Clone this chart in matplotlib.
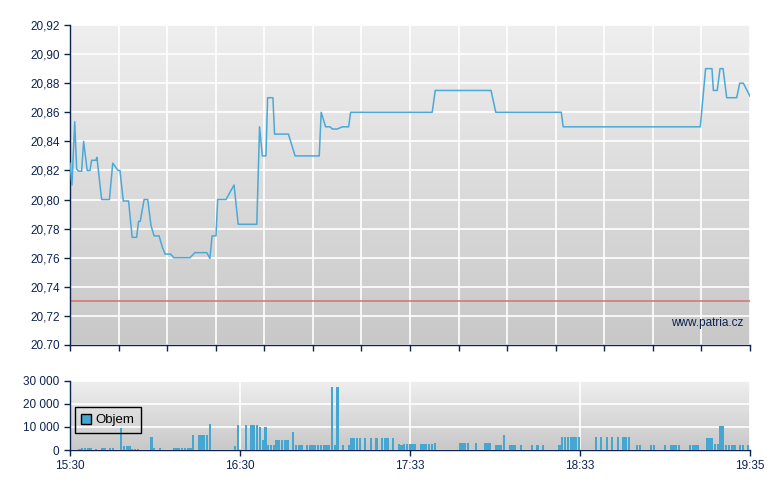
import numpy as np
import matplotlib
matplotlib.use('Agg')
import matplotlib.pyplot as plt
from matplotlib.colors import LinearSegmentedColormap
from matplotlib.patches import Patch

plt.rcParams['font.family'] = ['Liberation Sans', 'DejaVu Sans']
NAVY = '#0c2350'
LINE_BLUE = '#4ba9d6'
BAR_BLUE = '#45a6d1'

# price line: minutes after 15:30 and price
price_min = [0, 0.7, 1.7, 2.4, 3.1, 4.2, 4.9, 6.2, 7.2, 7.8, 9.3, 9.7, 11.4, 14.2,
             15.4, 17.3, 18.0, 19.2, 21.1, 22.4, 24.0, 24.7, 25.3, 26.7, 28.0, 29.2,
             30.3, 32.1, 33.4, 34.3, 36.3, 37.4, 43.2, 45.0, 49.3, 50.4, 51.2, 52.6,
             53.2, 56.2, 59.1, 60.6, 67.3, 68.3, 69.3, 70.6, 71.2, 73.1, 73.7, 78.7,
             81.1, 89.8, 90.5, 92.1, 93.7, 94.5, 96.3, 98.1, 100.4, 101.1, 130.5,
             131.6, 151.7, 153.4, 177.0, 177.7, 227.1, 229.0, 231.3, 231.8, 233.2,
             234.2, 235.3, 236.6, 240.2, 241.3, 242.6, 245]
price = [20.825, 20.81, 20.8535, 20.821, 20.8195, 20.8195, 20.84, 20.82, 20.82, 20.827,
         20.827, 20.829, 20.80, 20.80, 20.825, 20.82, 20.82, 20.799, 20.799, 20.774,
         20.774, 20.785, 20.785, 20.80, 20.80, 20.782, 20.775, 20.775, 20.7665, 20.7625,
         20.7625, 20.76, 20.76, 20.7635, 20.7635, 20.7595, 20.775, 20.775, 20.80, 20.80,
         20.81, 20.783, 20.783, 20.85, 20.83, 20.83, 20.87, 20.87, 20.845, 20.845,
         20.83, 20.83, 20.86, 20.85, 20.85, 20.8485, 20.8485, 20.85, 20.85, 20.86, 20.86,
         20.875, 20.875, 20.86, 20.86, 20.85, 20.85, 20.89, 20.89, 20.875, 20.875,
         20.89, 20.89, 20.87, 20.87, 20.88, 20.88, 20.871]
prev_close = 20.73

# volume per minute (minute index after 15:30)
vol_min = [3, 4, 5, 6, 7, 9, 11, 12, 14, 15, 18, 19, 20, 21, 22, 23, 24, 29, 30, 32,
           37, 38, 39, 40, 41, 42, 43, 44, 46, 47, 48, 49, 50, 59, 60, 63, 65, 66, 67,
           68, 69, 70, 71, 72, 73, 74, 75, 76, 77, 78, 80, 81, 82, 83, 85, 86, 87, 88,
           89, 90, 91, 92, 93, 94, 95, 96, 98, 100, 101, 102, 103, 104, 106, 108, 110,
           112, 113, 114, 116, 118, 119, 120, 121, 122, 123, 124, 126, 127, 128, 129,
           130, 131, 140, 141, 142, 143, 146, 149, 150, 151, 153, 154, 155, 156, 158,
           159, 160, 162, 166, 168, 170, 176, 177, 178, 179, 180, 181, 182, 183, 189,
           191, 193, 195, 197, 199, 200, 201, 204, 205, 209, 210, 214, 216, 217, 218,
           219, 223, 224, 225, 226, 229, 230, 231, 232, 233, 234, 235, 236, 237, 238,
           239, 241, 242, 244]
vol = [600, 1000, 1000, 1000, 1000, 600, 1000, 1000, 1000, 1000, 9500, 1800, 1800, 1800,
       600, 600, 600, 5500, 1000, 1000, 1000, 1000, 1000, 1000, 1000, 1000, 1000, 6700,
       6700, 6700, 6700, 6700, 11200, 1900, 10700, 10700, 10700, 10700, 10700, 9800,
       4500, 9800, 2200, 2200, 2200, 4500, 4500, 4500, 4500, 4500, 8000, 2200, 2200,
       2200, 2200, 2200, 2200, 2200, 2200, 2200, 2200, 2200, 2200, 27300, 2200, 27300,
       2200, 2200, 5400, 5400, 5400, 5400, 5400, 5400, 5400, 5400, 5400, 5400, 5400,
       2700, 2200, 2700, 2700, 2700, 2700, 2700, 2700, 2700, 2700, 2700, 2700, 3100,
       3100, 3100, 3100, 3100, 3100, 3100, 3100, 3100, 2200, 2200, 2200, 6700, 2200,
       2200, 2200, 2200, 2200, 2200, 2200, 2200, 5800, 5800, 5800, 5800, 5800, 5800,
       5800, 5800, 5800, 5800, 5800, 5800, 5800, 5800, 5800, 2200, 2200, 2200, 2200,
       2200, 2200, 2200, 2200, 2200, 2200, 2200, 2200, 2200, 5400, 5400, 5400, 2700,
       2700, 10300, 10300, 2200, 2200, 2200, 2200, 2200, 2200, 2200]

time_labels = ['15:30', '16:30', '17:33', '18:33', '19:35']
price_ticks = [20.70, 20.72, 20.74, 20.76, 20.78, 20.80, 20.82, 20.84, 20.86, 20.88, 20.90, 20.92]
price_labels = ['20.70', '20,72', '20,74', '20,76', '20,78', '20,80', '20,82', '20,84',
                '20,86', '20,88', '20,90', '20,92']
vol_ticks = [0, 10000, 20000, 30000]
vol_labels = ['0', '10 000', '20 000', '30 000']
SESSION = 245

grad = LinearSegmentedColormap.from_list('bg', ['#c8c8c8', '#efefef'])


def background(ax):
    ax.imshow(np.linspace(0, 1, 256).reshape(-1, 1), cmap=grad, origin='lower',
              extent=[0, 1, 0, 1], transform=ax.transAxes, aspect='auto', zorder=0)
    ax.set_axisbelow(True)
    for s in ['top', 'right']:
        ax.spines[s].set_visible(False)
    for s in ['left', 'bottom']:
        ax.spines[s].set_color(NAVY)
        ax.spines[s].set_linewidth(1)
    ax.tick_params(colors=NAVY, labelcolor=NAVY, length=4, width=1, labelsize=8.5)


fig = plt.figure(figsize=(7.8, 4.9), dpi=100)
ax1 = fig.add_axes([70 / 780, 145 / 490, 680 / 780, 320 / 490])
ax2 = fig.add_axes([70 / 780, 40 / 490, 680 / 780, 69.3 / 490])

# price panel
background(ax1)
ax1.plot(price_min, price, color=LINE_BLUE, lw=1.1, zorder=3)
ax1.axhline(prev_close, color='#d6706c', lw=1.2, alpha=0.9, zorder=2)
ax1.set_xlim(0, SESSION)
ax1.set_ylim(20.70, 20.92)
ax1.set_yticks(price_ticks)
ax1.set_yticklabels(price_labels)
ax1.set_xticks(np.linspace(0, SESSION, 15))
ax1.set_xticklabels([])
ax1.grid(True, color='white', lw=1.2)
ax1.text(0.99, 0.068, 'www.patria.cz', transform=ax1.transAxes, ha='right', va='center',
         fontsize=8.5, color=NAVY, zorder=4)

# volume panel
background(ax2)
ax2.bar(vol_min, vol, width=0.8, align='edge', color=BAR_BLUE, lw=0, zorder=3)
ax2.set_xlim(0, SESSION)
ax2.set_ylim(0, 30000)
ax2.set_yticks(vol_ticks)
ax2.set_yticklabels(vol_labels)
ax2.set_xticks(np.linspace(0, SESSION, 5))
ax2.set_xticklabels(time_labels)
ax2.grid(True, color='white', lw=1.2)
leg = ax2.legend(handles=[Patch(facecolor=BAR_BLUE, edgecolor='black', label='Objem')],
                 loc='lower left', bbox_to_anchor=(0.007, 0.245), borderaxespad=0,
                 fancybox=False, framealpha=1, facecolor='none', edgecolor='black',
                 fontsize=9.5, handlelength=0.75, handleheight=0.75, handletextpad=0.3,
                 borderpad=0.5)
leg.get_frame().set_linewidth(1)
for t in leg.get_texts():
    t.set_color('black')

fig.savefig('out.png', dpi=100)
